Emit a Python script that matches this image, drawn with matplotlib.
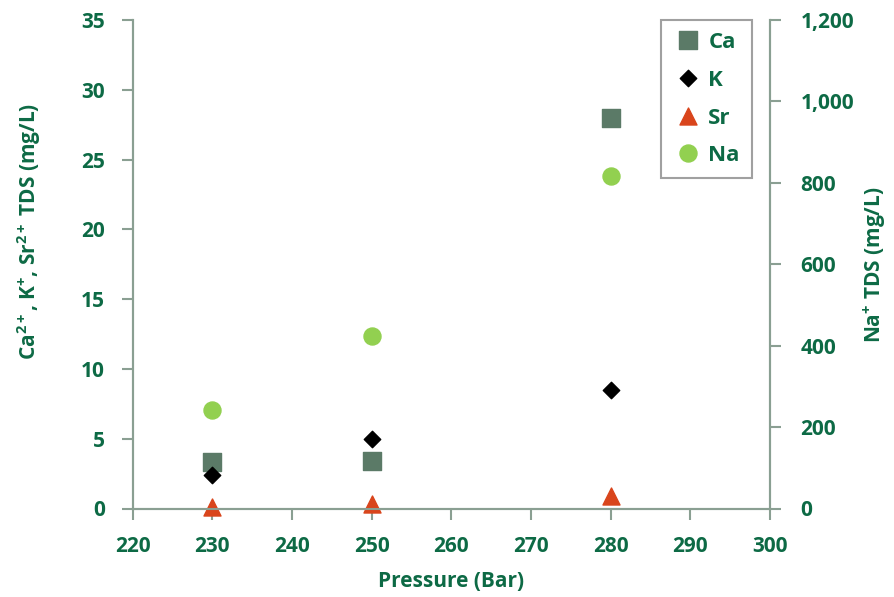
import matplotlib
matplotlib.use("Agg")
import matplotlib.pyplot as plt
from matplotlib.ticker import FuncFormatter, MultipleLocator

# Dissolved ion concentrations versus operating pressure
pressure = [230, 250, 280]
ca = [3.3, 3.4, 28.0]
k = [2.4, 5.0, 8.5]
sr = [0.1, 0.3, 0.9]
na = [243, 423, 816]

text_color = "#0d6a45"
spine_color = "#8a9f92"

plt.rcParams["font.family"] = ["Open Sans", "DejaVu Sans"]
plt.rcParams["font.weight"] = "bold"
plt.rcParams["mathtext.fontset"] = "custom"
plt.rcParams["mathtext.rm"] = "Open Sans:bold"
plt.rcParams["mathtext.it"] = "Open Sans:bold"
plt.rcParams["mathtext.bf"] = "Open Sans:bold"
plt.rcParams["mathtext.default"] = "rm"

fig = plt.figure(figsize=(8.94, 5.97), dpi=100)
ax = fig.add_axes([132.5 / 894, 1 - 508.5 / 597, (770 - 132.5) / 894, (508.5 - 20) / 597])
ax2 = ax.twinx()

h_ca = ax.scatter(pressure, ca, marker="s", s=150, color="#5b7a67", label="Ca", zorder=3)
h_k = ax.scatter(pressure, k, marker="D", s=70, color="black", label="K", zorder=3)
h_sr = ax.scatter(pressure, sr, marker="^", s=150, color="#d9451c", label="Sr", zorder=3,
                  clip_on=False)
h_na = ax2.scatter(pressure, na, marker="o", s=150, color="#92d050", label="Na", zorder=3)

ax.set_xlim(220, 300)
ax.set_ylim(0, 35)
ax2.set_ylim(0, 1200)
ax.xaxis.set_major_locator(MultipleLocator(10))
ax.yaxis.set_major_locator(MultipleLocator(5))
ax2.yaxis.set_major_locator(MultipleLocator(200))
ax2.yaxis.set_major_formatter(FuncFormatter(lambda v, p: f"{int(v):,}"))

for a in (ax, ax2):
    a.spines["top"].set_visible(False)
    for side in ("left", "right", "bottom"):
        a.spines[side].set_color(spine_color)
        a.spines[side].set_linewidth(1.5)
    a.tick_params(colors=spine_color, labelcolor=text_color, labelsize=15,
                  width=1.5, length=8)
ax.tick_params(axis="x", pad=12)
ax.tick_params(axis="y", pad=12)
ax2.tick_params(axis="y", pad=14)
for lab in ax.get_xticklabels() + ax.get_yticklabels() + ax2.get_yticklabels():
    lab.set_fontweight("bold")

ax.set_xlabel("Pressure (Bar)", fontsize=15, fontweight="bold", color=text_color, labelpad=10)
ax.set_ylabel("Ca$^{2+}$, K$^{+}$, Sr$^{2+}$ TDS (mg/L)", fontsize=15, fontweight="bold",
              color=text_color)
ax.yaxis.set_label_coords(-0.141, 0.568)
ax2.set_ylabel("Na$^{+}$ TDS (mg/L)", fontsize=15, fontweight="bold", color=text_color,
               labelpad=5)

leg = ax2.legend(handles=[h_ca, h_k, h_sr, h_na], loc="upper right",
                 bbox_to_anchor=((752 - 132.5) / (770 - 132.5), 1.0), borderaxespad=0,
                 frameon=True, fancybox=False, edgecolor="#888888", fontsize=16,
                 labelspacing=0.75, handletextpad=0.2, handlelength=1.4,
                 borderpad=0.55, scatteryoffsets=[0.5])
leg.get_frame().set_linewidth(1.5)
for t in leg.get_texts():
    t.set_color(text_color)
    t.set_fontweight("bold")

fig.savefig("out.png", dpi=100)
